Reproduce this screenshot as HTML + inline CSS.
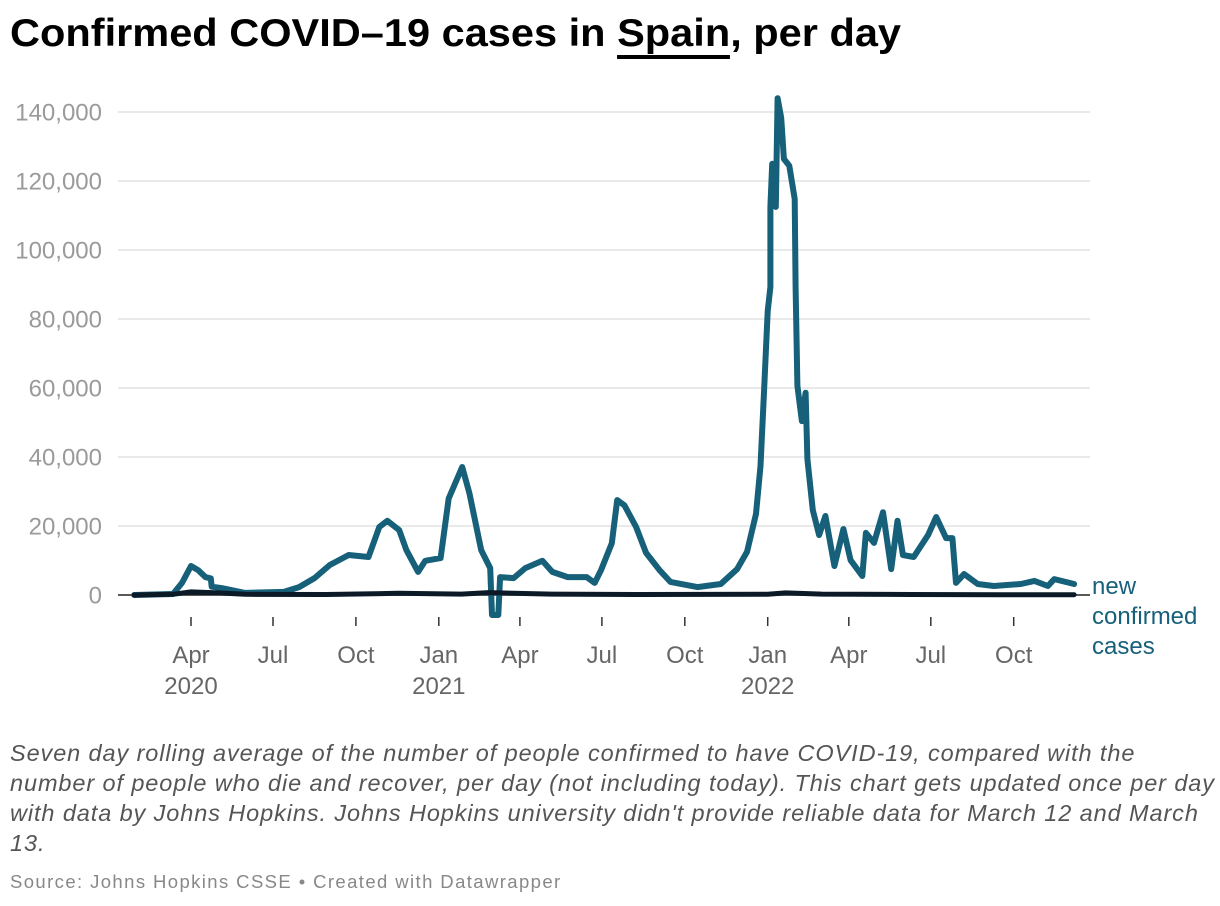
<!DOCTYPE html>
<html><head><meta charset="utf-8">
<style>
body{margin:0;background:#fff;width:1220px;height:906px;overflow:hidden;font-family:"Liberation Sans",sans-serif;}
#title{position:absolute;left:10px;top:12px;font-size:39px;font-weight:bold;color:#000;margin:0;white-space:nowrap;transform-origin:0 0;transform:scaleX(1.065)}
#title u{text-decoration:none;border-bottom:4px solid #000;}
#caption{position:absolute;left:10px;top:738px;width:1210px;font-size:23.5px;font-style:italic;color:#555;line-height:30px;white-space:nowrap;letter-spacing:0.9px}
#source{position:absolute;left:10px;top:871px;font-size:18.5px;color:#888;letter-spacing:1.4px}
svg{position:absolute;left:0;top:0}
</style></head><body>
<h1 id="title">Confirmed COVID–19 cases in <u>Spain</u>, per day</h1>
<svg id="chart" width="1220" height="720"></svg>
<div id="caption">Seven day rolling average of the number of people confirmed to have COVID-19, compared with the<br>number of people who die and recover, per day (not including today). This chart gets updated once per day<br>with data by Johns Hopkins. Johns Hopkins university didn't provide reliable data for March 12 and March<br>13.</div>
<div id="source">Source: Johns Hopkins CSSE • Created with Datawrapper</div>
<script>
// days since 2020-04-01
const caseDays=[-63,-20,-10,0,8,16,22,23,34,60,103,120,137,154,175,197,209,218,231,239,252,260,277,286,301,309,322,332,334,341,343,358,371,390,401,418,439,448,455,467,473,481,494,505,520,532,562,588,606,617,627,632,636,640,643,643,645,649,651,655,658,664,670,671,673,678,682,684,690,697,704,714,724,732,745,749,758,768,777,784,790,802,818,827,838,845,849,858,873,891,921,936,951,958,980];
const caseValues=[0,300,3500,8400,7200,5200,4800,2400,2000,600,900,2300,4900,8700,11600,11000,19700,21500,18800,13000,6700,9900,10700,28000,37100,29500,13000,7800,-5800,-5800,5200,4900,7800,9900,6700,5200,5200,3500,7200,15000,27500,26000,19700,12200,7200,3800,2300,3200,7500,12500,23500,37400,59400,82300,89300,112500,125000,112500,144000,138300,126400,124400,114800,89300,60600,50400,58600,39400,24600,17400,22900,8400,19100,10100,5500,18000,15100,24000,7500,21500,11600,11000,17400,22600,16500,16500,3500,6100,3200,2600,3200,4100,2600,4600,3200];
const otherDays=[-63,-20,0,30,60,150,230,300,330,400,500,640,660,700,800,900,980];
const otherValues=[0,200,900,600,200,150,500,250,700,250,150,200,600,250,150,100,100];
const yTicks=[0,20000,40000,60000,80000,100000,120000,140000];
const xTickDays=[0,91,183,275,365,456,548,640,730,821,913];
const xTickLabels=["Apr","Jul","Oct","Jan","Apr","Jul","Oct","Jan","Apr","Jul","Oct"];
const xYearLabels=["2020","","","2021","","","","2022","","",""];

const svg=document.getElementById('chart');const NS='http://www.w3.org/2000/svg';
const X=d=>191+d*0.9011;
const Y=v=>595-v*(483/140000);
function mk(t,a){const e=document.createElementNS(NS,t);for(const k in a)e.setAttribute(k,a[k]);svg.appendChild(e);return e;}
yTicks.forEach(v=>{
  if(v>0){const g=mk('line',{x1:118,x2:1090,y1:Y(v),y2:Y(v),stroke:'#e2e2e2','stroke-width':1.5});
  
  }
  const t=mk('text',{x:102,y:Y(v)+8.5,'text-anchor':'end','font-size':24,fill:'#9a9a9a','font-family':'Liberation Sans, sans-serif'});
  t.textContent=v.toLocaleString('en-US');
  
  
});
const base=mk('line',{x1:118,x2:1090,y1:595,y2:595,stroke:'#222','stroke-width':1.5});


xTickDays.forEach((d,i)=>{
  const tk=mk('line',{x1:X(d),x2:X(d),y1:617,y2:626,stroke:'#333','stroke-width':1.5});
  
  
  const t=mk('text',{x:X(d),y:663,'text-anchor':'middle','font-size':24,fill:'#666','font-family':'Liberation Sans, sans-serif'});
  t.textContent=xTickLabels[i];
  
  
  if(xYearLabels[i]){const y=mk('text',{x:X(d),y:694,'text-anchor':'middle','font-size':24,fill:'#666','font-family':'Liberation Sans, sans-serif'});
  y.textContent=xYearLabels[i];
  
  }
});
function path(days,vals){return days.map((d,i)=>(i?'L':'M')+X(d).toFixed(1)+','+Y(vals[i]).toFixed(1)).join('');}
const cl=mk('path',{d:path(caseDays,caseValues),fill:'none',stroke:'#17607a','stroke-width':6,'stroke-linejoin':'round','stroke-linecap':'round'});


const ol=mk('path',{d:path(otherDays,otherValues),fill:'none',stroke:'#0b1a26','stroke-width':5,'stroke-linejoin':'round','stroke-linecap':'round'});


["new","confirmed","cases"].forEach((s,i)=>{
  const t=mk('text',{x:1092,y:594+i*30,'font-size':24,fill:'#17607a','font-family':'Liberation Sans, sans-serif'});
  t.textContent=s;
  
  
});
</script>
</body></html>
